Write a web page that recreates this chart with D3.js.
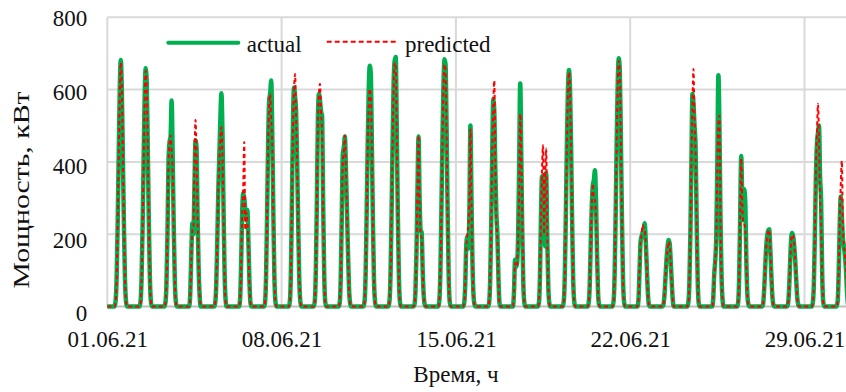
<!DOCTYPE html>
<html>
<head>
<meta charset="utf-8">
<script src="https://cdn.jsdelivr.net/npm/d3@7"></script>
<style>
  html, body { margin: 0; padding: 0; background: #fff; }
  svg { display: block; }
  svg text { font-family: "Liberation Serif", "Times New Roman", serif; font-size: 23px; fill: #111; }
</style>
</head>
<body>
<svg id="chart" width="846" height="392"></svg>
<script>
// Hourly power, kW, one row per day of June 2021 (hours 0..23)
const actualByDay = [
  [0,0,0,0,0,0,0,0,15,80,230,420,600,682,600,420,230,80,15,0,0,0,0,0],
  [0,0,0,0,0,0,0,0,12,75,220,400,580,659,620,440,240,85,15,0,0,0,0,0],
  [0,0,0,0,0,0,0,0,10,60,200,400,455,470,570,420,230,80,15,0,0,0,0,0],
  [0,0,0,0,0,0,0,0,40,150,230,200,330,460,440,250,110,30,0,0,0,0,0,0],
  [0,0,0,0,0,0,0,0,10,60,180,320,420,520,590,480,280,100,20,0,0,0,0,0],
  [0,0,0,0,0,0,0,0,20,120,260,313,300,270,250,267,180,70,10,0,0,0,0,0],
  [0,0,0,0,0,0,0,0,10,80,250,450,570,590,625,480,270,90,15,0,0,0,0,0],
  [0,0,0,0,0,0,0,0,15,100,300,520,606,580,538,400,230,80,15,0,0,0,0,0],
  [0,0,0,0,0,0,0,0,15,100,290,520,588,570,540,528,300,100,15,0,0,0,0,0],
  [0,0,0,0,0,0,0,0,10,80,250,423,440,470,380,270,150,50,10,0,0,0,0,0],
  [0,0,0,0,0,0,0,0,15,90,260,450,600,666,640,450,240,80,15,0,0,0,0,0],
  [0,0,0,0,0,0,0,0,15,90,260,460,620,680,690,500,260,90,15,0,0,0,0,0],
  [0,0,0,0,0,0,0,0,5,40,150,330,470,300,211,205,100,30,5,0,0,0,0,0],
  [0,0,0,0,0,0,0,0,15,90,260,460,610,684,670,500,270,90,15,0,0,0,0,0],
  [0,0,0,0,0,0,0,0,10,60,170,193,160,260,501,300,120,30,5,0,0,0,0,0],
  [0,0,0,0,0,0,0,0,10,70,220,420,574,540,380,258,200,80,10,0,0,0,0,0],
  [0,0,0,0,0,0,0,0,40,129,110,120,200,400,617,420,200,60,10,0,0,0,0,0],
  [0,0,0,0,0,0,0,0,10,80,250,360,300,340,166,370,200,60,10,0,0,0,0,0],
  [0,0,0,0,0,0,0,0,15,90,260,450,600,654,600,450,240,80,15,0,0,0,0,0],
  [0,0,0,0,0,0,0,0,10,60,180,280,336,350,377,300,150,40,5,0,0,0,0,0],
  [0,0,0,0,0,0,0,0,15,90,260,460,620,687,650,470,250,85,15,0,0,0,0,0],
  [0,0,0,0,0,0,0,0,20,100,180,194,205,215,230,180,110,40,5,0,0,0,0,0],
  [0,0,0,0,0,0,0,0,5,30,80,130,165,184,175,130,70,20,0,0,0,0,0,0],
  [0,0,0,0,0,0,0,0,10,60,200,400,588,560,500,446,250,80,10,0,0,0,0,0],
  [0,0,0,0,0,0,0,0,20,90,129,200,400,640,500,250,90,20,0,0,0,0,0,0],
  [0,0,0,0,0,0,0,0,10,80,250,416,300,240,324,280,120,30,5,0,0,0,0,0],
  [0,0,0,0,0,0,0,0,5,40,100,160,195,210,214,160,90,30,5,0,0,0,0,0],
  [0,0,0,0,0,0,0,0,5,40,110,180,203,195,170,130,75,25,5,0,0,0,0,0],
  [0,0,0,0,0,0,0,0,10,60,200,360,450,480,501,360,294,100,15,0,0,0,0,0],
  [0,0,0,0,0,0,0,0,15,100,230,304,250,190,166,140,100,40,5,0,0,0,0,0]
];

const predictedByDay = [
  [0,0,0,0,0,0,0,0,12,70,220,410,590,675,610,430,235,85,15,0,0,0,0,0],
  [0,0,0,0,0,0,0,0,10,70,210,390,570,652,615,445,245,90,15,0,0,0,0,0],
  [0,0,0,0,0,0,0,0,10,60,200,400,450,473,430,380,220,80,15,0,0,0,0,0],
  [0,0,0,0,0,0,0,0,30,130,210,220,400,516,420,260,120,35,5,0,0,0,0,0],
  [0,0,0,0,0,0,0,0,10,60,180,320,405,470,496,420,260,90,15,0,0,0,0,0],
  [0,0,0,0,0,0,0,0,20,110,250,330,455,212,260,240,170,60,10,0,0,0,0,0],
  [0,0,0,0,0,0,0,0,10,80,250,440,560,588,515,450,260,85,15,0,0,0,0,0],
  [0,0,0,0,0,0,0,0,15,100,300,500,600,643,520,390,220,80,15,0,0,0,0,0],
  [0,0,0,0,0,0,0,0,15,95,280,500,590,616,540,480,280,95,15,0,0,0,0,0],
  [0,0,0,0,0,0,0,0,10,80,240,400,430,473,380,270,150,50,10,0,0,0,0,0],
  [0,0,0,0,0,0,0,0,15,90,250,440,560,602,580,440,235,80,15,0,0,0,0,0],
  [0,0,0,0,0,0,0,0,15,90,255,450,610,675,660,490,255,90,15,0,0,0,0,0],
  [0,0,0,0,0,0,0,0,5,40,150,330,473,290,200,190,95,30,5,0,0,0,0,0],
  [0,0,0,0,0,0,0,0,15,90,255,450,600,670,655,490,265,90,15,0,0,0,0,0],
  [0,0,0,0,0,0,0,0,10,60,160,200,226,300,490,290,115,30,5,0,0,0,0,0],
  [0,0,0,0,0,0,0,0,10,70,220,420,560,625,400,230,190,75,10,0,0,0,0,0],
  [0,0,0,0,0,0,0,0,35,120,110,115,190,330,533,420,240,85,10,0,0,0,0,0],
  [0,0,0,0,0,0,0,0,10,80,240,380,446,200,350,437,210,60,10,0,0,0,0,0],
  [0,0,0,0,0,0,0,0,15,90,255,440,590,648,595,445,235,80,15,0,0,0,0,0],
  [0,0,0,0,0,0,0,0,10,60,180,280,340,300,294,250,140,40,5,0,0,0,0,0],
  [0,0,0,0,0,0,0,0,15,90,255,455,615,680,640,465,245,85,15,0,0,0,0,0],
  [0,0,0,0,0,0,0,0,20,95,175,200,226,215,210,170,105,40,5,0,0,0,0,0],
  [0,0,0,0,0,0,0,0,5,30,80,128,160,180,170,128,70,20,0,0,0,0,0,0],
  [0,0,0,0,0,0,0,0,10,60,200,400,560,657,520,430,240,80,10,0,0,0,0,0],
  [0,0,0,0,0,0,0,0,20,85,125,190,380,510,528,240,85,20,0,0,0,0,0,0],
  [0,0,0,0,0,0,0,0,10,80,245,409,290,235,230,210,110,30,5,0,0,0,0,0],
  [0,0,0,0,0,0,0,0,5,40,100,158,192,208,212,160,90,30,5,0,0,0,0,0],
  [0,0,0,0,0,0,0,0,5,40,105,175,198,198,175,135,75,25,5,0,0,0,0,0],
  [0,0,0,0,0,0,0,0,10,60,200,370,480,560,460,300,230,90,15,0,0,0,0,0],
  [0,0,0,0,0,0,0,0,15,100,240,340,403,220,170,140,100,40,5,0,0,0,0,0]
];

const seriesNames = ["actual", "predicted"];
const yTickValues = [0, 200, 400, 600, 800];
const xTickDates = ["2021-06-01", "2021-06-08", "2021-06-15", "2021-06-22", "2021-06-29"];
const yTitle = "Мощность, кВт";
const xTitle = "Время, ч";

const startMs = Date.UTC(2021, 5, 1);
const HOUR = 3600 * 1000;
function toPoints(rows) {
  return rows.flat().map((v, i) => ({ t: new Date(startMs + i * HOUR), v }));
}
const actualPts = toPoints(actualByDay);
const predictedPts = toPoints(predictedByDay);

const svg = d3.select("#chart");
const plotLeft = 107.3, plotTop = 17.3, plotBottom = 306.5, plotRight = 846;

const x = d3.scaleUtc()
  .domain([new Date(startMs), new Date(Date.UTC(2021, 6, 1))])
  .range([plotLeft, plotLeft + 30 * 24.9]);
const y = d3.scaleLinear().domain([0, 800]).range([plotBottom, plotTop]);
// baseline positions of the value labels
const yLabel = d3.scaleLinear().domain([0, 800]).range([320.8, 25.8]);

const tickDates = xTickDates.map(s => new Date(s + "T00:00:00Z"));

// grid
const grid = svg.append("g");
grid.selectAll("line.h").data(yTickValues.filter(v => v > 0)).join("line")
  .attr("class", "h")
  .attr("x1", plotLeft).attr("x2", plotRight)
  .attr("y1", d => y(d)).attr("y2", d => y(d))
  .attr("stroke", "#d9d9d9").attr("stroke-width", 2);
grid.selectAll("line.v").data(tickDates).join("line")
  .attr("class", "v")
  .attr("x1", d => x(d)).attr("x2", d => x(d))
  .attr("y1", plotTop).attr("y2", plotBottom)
  .attr("stroke", "#d9d9d9").attr("stroke-width", 2);
grid.append("line")
  .attr("x1", plotLeft).attr("x2", plotRight)
  .attr("y1", y(0)).attr("y2", y(0))
  .attr("stroke", "#bfbfbf").attr("stroke-width", 2);

// y axis labels
const yAxis = svg.append("g")
  .attr("transform", `translate(${plotLeft - 20},0)`)
  .call(d3.axisLeft(y).tickValues(yTickValues).tickSize(0).tickPadding(0));
yAxis.attr("font-family", null).attr("font-size", null);
yAxis.select(".domain").remove();
yAxis.selectAll("text")
  .attr("x", 0).attr("dy", 0)
  .attr("y", d => yLabel(d) - y(d))
  .attr("text-anchor", "end").attr("fill", null);

// x axis labels
const xAxis = svg.append("g")
  .attr("transform", `translate(0,${plotBottom})`)
  .call(d3.axisBottom(x).tickValues(tickDates).tickSize(0)
    .tickFormat(d3.utcFormat("%d.%m.%y")));
xAxis.attr("font-family", null).attr("font-size", null);
xAxis.select(".domain").remove();
xAxis.selectAll("text")
  .attr("y", 40).attr("dy", 0).attr("fill", null);

// series
const line = d3.line().x(d => x(d.t)).y(d => y(d.v)).curve(d3.curveMonotoneX);
svg.append("path").datum(actualPts)
  .attr("d", line).attr("fill", "none")
  .attr("stroke", "#00b050").attr("stroke-width", 4.5)
  .attr("stroke-linejoin", "round");
svg.append("path").datum(predictedPts)
  .attr("d", line).attr("fill", "none")
  .attr("stroke", "#ff0000").attr("stroke-width", 2)
  .attr("stroke-dasharray", "4,3");

// legend
const legend = svg.append("g");
legend.append("line")
  .attr("x1", 168.3).attr("x2", 238.3).attr("y1", 42.7).attr("y2", 42.7)
  .attr("stroke", "#00b050").attr("stroke-width", 4).attr("stroke-linecap", "round");
legend.append("text").attr("x", 246.7).attr("y", 51.7).text(seriesNames[0]);
legend.append("line")
  .attr("x1", 326.7).attr("x2", 396.7).attr("y1", 41.7).attr("y2", 41.7)
  .attr("stroke", "#ff0000").attr("stroke-width", 2).attr("stroke-dasharray", "5,3");
legend.append("text").attr("x", 405).attr("y", 51.7).text(seriesNames[1]);

// axis titles
svg.append("text")
  .attr("transform", "translate(29,190) rotate(-90)")
  .attr("text-anchor", "middle")
  .attr("textLength", 197).attr("lengthAdjust", "spacingAndGlyphs")
  .text(yTitle);
svg.append("text")
  .attr("x", 456).attr("y", 382.3).attr("text-anchor", "middle")
  .text(xTitle);
</script>
</body>
</html>
